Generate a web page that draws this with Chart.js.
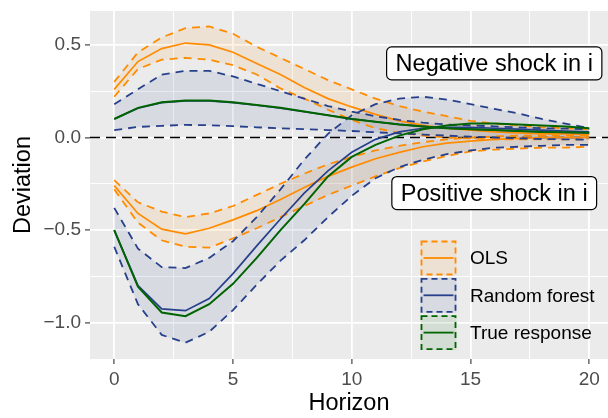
<!DOCTYPE html>
<html>
<head>
<meta charset="utf-8">
<script src="https://cdn.jsdelivr.net/npm/chart.js@4.4.1/dist/chart.umd.min.js"></script>
<style>
  html, body { margin: 0; padding: 0; background: #ffffff; }
  #wrap { width: 608px; height: 418px; }
</style>
</head>
<body>
<div id="wrap"><canvas id="irf" width="608" height="418"></canvas></div>
<script>
// Horizonte e respostas (choque negativo em cima, positivo em baixo)
const horizon = [0, 1, 2, 3, 4, 5, 6, 7, 8, 9, 10, 11, 12, 13, 14, 15, 16, 17, 18, 19, 20];

const olsNegMean = [0.26, 0.41, 0.48, 0.51, 0.50, 0.46, 0.40, 0.34, 0.27, 0.21, 0.165, 0.125, 0.09, 0.065, 0.05, 0.04, 0.03, 0.025, 0.02, 0.02, 0.015];
const olsNegLo   = [0.22, 0.37, 0.42, 0.43, 0.42, 0.39, 0.34, 0.265, 0.21, 0.15, 0.095, 0.05, 0.025, 0.01, 0.0, -0.005, -0.01, -0.01, -0.01, -0.01, -0.01];
const olsNegHi   = [0.30, 0.46, 0.54, 0.59, 0.60, 0.56, 0.49, 0.43, 0.37, 0.31, 0.26, 0.21, 0.17, 0.14, 0.115, 0.09, 0.075, 0.065, 0.055, 0.05, 0.045];

const rfNegMean = [0.10, 0.158, 0.188, 0.198, 0.198, 0.188, 0.174, 0.158, 0.139, 0.12, 0.101, 0.085, 0.071, 0.06, 0.051, 0.045, 0.04, 0.035, 0.031, 0.028, 0.025];
const rfNegLo   = [0.04, 0.057, 0.063, 0.068, 0.066, 0.061, 0.055, 0.05, 0.045, 0.04, 0.035, 0.028, 0.022, 0.016, 0.01, 0.005, 0.0, -0.005, -0.008, -0.01, -0.012];
const rfNegHi   = [0.18, 0.26, 0.34, 0.36, 0.36, 0.33, 0.29, 0.25, 0.21, 0.17, 0.14, 0.115, 0.095, 0.08, 0.07, 0.065, 0.06, 0.055, 0.05, 0.048, 0.045];
const trueNeg   = [0.10, 0.16, 0.19, 0.20, 0.20, 0.19, 0.175, 0.16, 0.14, 0.12, 0.10, 0.085, 0.07, 0.06, 0.05, 0.045, 0.04, 0.035, 0.03, 0.028, 0.025];

const olsPosMean = [-0.26, -0.41, -0.495, -0.52, -0.49, -0.445, -0.395, -0.335, -0.27, -0.21, -0.16, -0.115, -0.08, -0.05, -0.03, -0.02, -0.01, -0.005, 0.0, 0.0, 0.0];
const olsPosLo   = [-0.28, -0.46, -0.555, -0.59, -0.595, -0.545, -0.49, -0.43, -0.37, -0.31, -0.26, -0.21, -0.165, -0.13, -0.10, -0.075, -0.065, -0.06, -0.055, -0.055, -0.05];
const olsPosHi   = [-0.23, -0.35, -0.40, -0.43, -0.41, -0.37, -0.31, -0.25, -0.195, -0.145, -0.105, -0.07, -0.045, -0.025, -0.01, 0.0, 0.005, 0.01, 0.01, 0.01, 0.01];

const rfPosMean = [-0.50, -0.80, -0.925, -0.935, -0.87, -0.735, -0.585, -0.44, -0.30, -0.18, -0.08, -0.01, 0.03, 0.05, 0.055, 0.055, 0.05, 0.045, 0.04, 0.035, 0.03];
const rfPosLo   = [-0.59, -0.90, -1.066, -1.108, -1.049, -0.932, -0.795, -0.665, -0.555, -0.43, -0.315, -0.22, -0.16, -0.12, -0.09, -0.07, -0.055, -0.05, -0.045, -0.04, -0.04];
const rfPosHi   = [-0.38, -0.60, -0.70, -0.705, -0.65, -0.56, -0.43, -0.28, -0.12, 0.02, 0.12, 0.18, 0.21, 0.22, 0.205, 0.18, 0.155, 0.13, 0.10, 0.075, 0.05];
const truePos   = [-0.50, -0.806, -0.945, -0.965, -0.90, -0.79, -0.65, -0.50, -0.36, -0.21, -0.105, -0.04, 0.01, 0.045, 0.065, 0.075, 0.075, 0.07, 0.065, 0.06, 0.05];

// Ticks
const xMajor = [0, 5, 10, 15, 20];
const xMinor = [2.5, 7.5, 12.5, 17.5];
const yMajor = [-1, -0.5, 0, 0.5];
const yMinor = [-0.75, -0.25, 0.25];

// Legenda e rótulos
const legendNames = ['OLS', 'Random forest', 'True response'];
const legendColors = ['#FF8C00', '#27408B', '#006400'];
const legendFills = ['rgba(255,140,0,0.1)', 'rgba(39,64,139,0.1)', 'rgba(0,100,0,0.1)'];
const shockText = ['Negative shock in i', 'Positive shock in i'];
const shockX = [16, 16];
const shockY = [0.4, -0.3];

const FONT = '"Liberation Sans", Arial, Helvetica, sans-serif';
const ORANGE = '#FF8C00', BLUE = '#27408B', GREEN = '#006400';

function pts(vals) {
    return horizon.map((h, i) => ({ x: h, y: vals[i] }));
}

function solid(vals, color, width) {
    return { data: pts(vals), borderColor: color, borderWidth: width, fill: false, pointRadius: 0, tension: 0 };
}

function dashed(vals, color, fillColor) {
    return {
        data: pts(vals), borderColor: color, borderWidth: 1.8, borderDash: [8, 6],
        fill: fillColor ? '+1' : false, backgroundColor: fillColor || 'transparent',
        pointRadius: 0, tension: 0
    };
}

// Fundo do painel
const panelBg = {
    id: 'panelBg',
    beforeDraw(chart) {
        const { ctx, chartArea: a } = chart;
        ctx.save();
        ctx.fillStyle = '#EBEBEB';
        ctx.fillRect(a.left, a.top, a.right - a.left, a.bottom - a.top);
        ctx.restore();
    }
};

// Linha tracejada no zero
const zeroLine = {
    id: 'zeroLine',
    beforeDatasetsDraw(chart) {
        const { ctx, chartArea: a, scales } = chart;
        const y = scales.y.getPixelForValue(0);
        ctx.save();
        ctx.strokeStyle = '#000000';
        ctx.lineWidth = 1.6;
        ctx.setLineDash([10, 6]);
        ctx.beginPath();
        ctx.moveTo(a.left, y);
        ctx.lineTo(a.right, y);
        ctx.stroke();
        ctx.restore();
    }
};

// Caixas com o tipo de choque
const shockLabels = {
    id: 'shockLabels',
    afterDatasetsDraw(chart) {
        const { ctx, scales } = chart;
        ctx.save();
        ctx.font = '23.5px ' + FONT;
        ctx.textAlign = 'center';
        ctx.textBaseline = 'middle';
        shockText.forEach((t, i) => {
            const cx = scales.x.getPixelForValue(shockX[i]);
            const cy = scales.y.getPixelForValue(shockY[i]);
            const w = ctx.measureText(t).width + 18;
            const h = 33;
            ctx.beginPath();
            ctx.roundRect(cx - w / 2, cy - h / 2, w, h, 5);
            ctx.fillStyle = '#ffffff';
            ctx.fill();
            ctx.lineWidth = 1.2;
            ctx.strokeStyle = '#000000';
            ctx.stroke();
            ctx.fillStyle = '#000000';
            ctx.fillText(t, cx, cy + 1);
        });
        ctx.restore();
    }
};

// Legenda com chaves tracejadas
const keyLegend = {
    id: 'keyLegend',
    afterDatasetsDraw(chart) {
        const { ctx } = chart;
        const left = 420.5, top = 240.5, size = 35, keyW = 36, step = 37.3;
        ctx.save();
        legendNames.forEach((name, i) => {
            const y = top + i * step;
            ctx.fillStyle = legendFills[i];
            ctx.fillRect(left, y, keyW, size);
            ctx.strokeStyle = legendColors[i];
            ctx.lineWidth = 1.8;
            ctx.setLineDash([6, 4]);
            ctx.strokeRect(left + 1, y + 1, keyW - 2, size - 2);
            ctx.setLineDash([]);
            ctx.beginPath();
            ctx.moveTo(left + 3, y + size / 2);
            ctx.lineTo(left + keyW - 3, y + size / 2);
            ctx.stroke();
            ctx.fillStyle = '#000000';
            ctx.font = '19px ' + FONT;
            ctx.textAlign = 'left';
            ctx.textBaseline = 'middle';
            ctx.fillText(name, 470, y + size / 2 + 1);
        });
        ctx.restore();
    }
};

function gridOpts(isMajor) {
    return {
        color: '#FFFFFF',
        lineWidth: c => isMajor(c.tick.value) ? 1.8 : 0.9,
        drawTicks: true,
        tickLength: 5,
        tickWidth: 1.1,
        tickColor: c => isMajor(c.tick.value) ? '#333333' : 'rgba(0,0,0,0)'
    };
}

const isXMajor = v => xMajor.includes(v);
const isYMajor = v => yMajor.includes(v);

// o painel fica com as margens fixas, sem folga extra para os rótulos
function fixX(s) {
    s.height = 59;
    s.paddingLeft = 0;
    s.paddingRight = 0;
}

function fixY(s) {
    s.width = 90;
    s.paddingTop = 0;
    s.paddingBottom = 0;
}

new Chart(document.getElementById('irf'), {
    type: 'line',
    data: {
        datasets: [
            solid(trueNeg, GREEN, 2),
            solid(truePos, GREEN, 2),
            solid(rfNegMean, BLUE, 1.7),
            solid(rfPosMean, BLUE, 1.7),
            dashed(rfNegHi, BLUE, 'rgba(39,64,139,0.1)'),
            dashed(rfNegLo, BLUE),
            dashed(rfPosHi, BLUE, 'rgba(39,64,139,0.1)'),
            dashed(rfPosLo, BLUE),
            solid(olsNegMean, ORANGE, 1.7),
            solid(olsPosMean, ORANGE, 1.7),
            dashed(olsNegHi, ORANGE, 'rgba(255,140,0,0.1)'),
            dashed(olsNegLo, ORANGE),
            dashed(olsPosHi, ORANGE, 'rgba(255,140,0,0.1)'),
            dashed(olsPosLo, ORANGE)
        ]
    },
    options: {
        responsive: false,
        animation: false,
        devicePixelRatio: 1,
        layout: { padding: { top: 11, right: 0, left: 0, bottom: 0 } },
        plugins: {
            legend: { display: false },
            tooltip: { enabled: false },
            filler: { drawTime: 'beforeDatasetsDraw' }
        },
        scales: {
            x: {
                type: 'linear',
                min: -1.02,
                max: 20.79,
                afterBuildTicks: s => { s.ticks = xMajor.concat(xMinor).sort((a, b) => a - b).map(v => ({ value: v })); },
                afterFit: fixX,
                ticks: {
                    autoSkip: false, maxRotation: 0, padding: 4,
                    color: '#4D4D4D', font: { family: FONT, size: 19 },
                    callback: v => isXMajor(v) ? String(v) : ''
                },
                grid: gridOpts(isXMajor),
                border: { display: false },
                title: {
                    display: true, text: 'Horizon', color: '#000000',
                    font: { family: FONT, size: 23.5 }, padding: { top: 0, bottom: 0 }
                }
            },
            y: {
                type: 'linear',
                min: -1.196,
                max: 0.683,
                afterBuildTicks: s => { s.ticks = yMajor.concat(yMinor).sort((a, b) => a - b).map(v => ({ value: v })); },
                afterFit: fixY,
                ticks: {
                    autoSkip: false, padding: 4,
                    color: '#4D4D4D', font: { family: FONT, size: 19 },
                    callback: v => isYMajor(v) ? v.toFixed(1).replace('-', '\u2212') : ''
                },
                grid: gridOpts(isYMajor),
                border: { display: false },
                title: {
                    display: true, text: 'Deviation', color: '#000000',
                    font: { family: FONT, size: 23.5 }, padding: { top: 9, bottom: 0 }
                }
            }
        }
    },
    plugins: [panelBg, zeroLine, shockLabels, keyLegend]
});
</script>
</body>
</html>
